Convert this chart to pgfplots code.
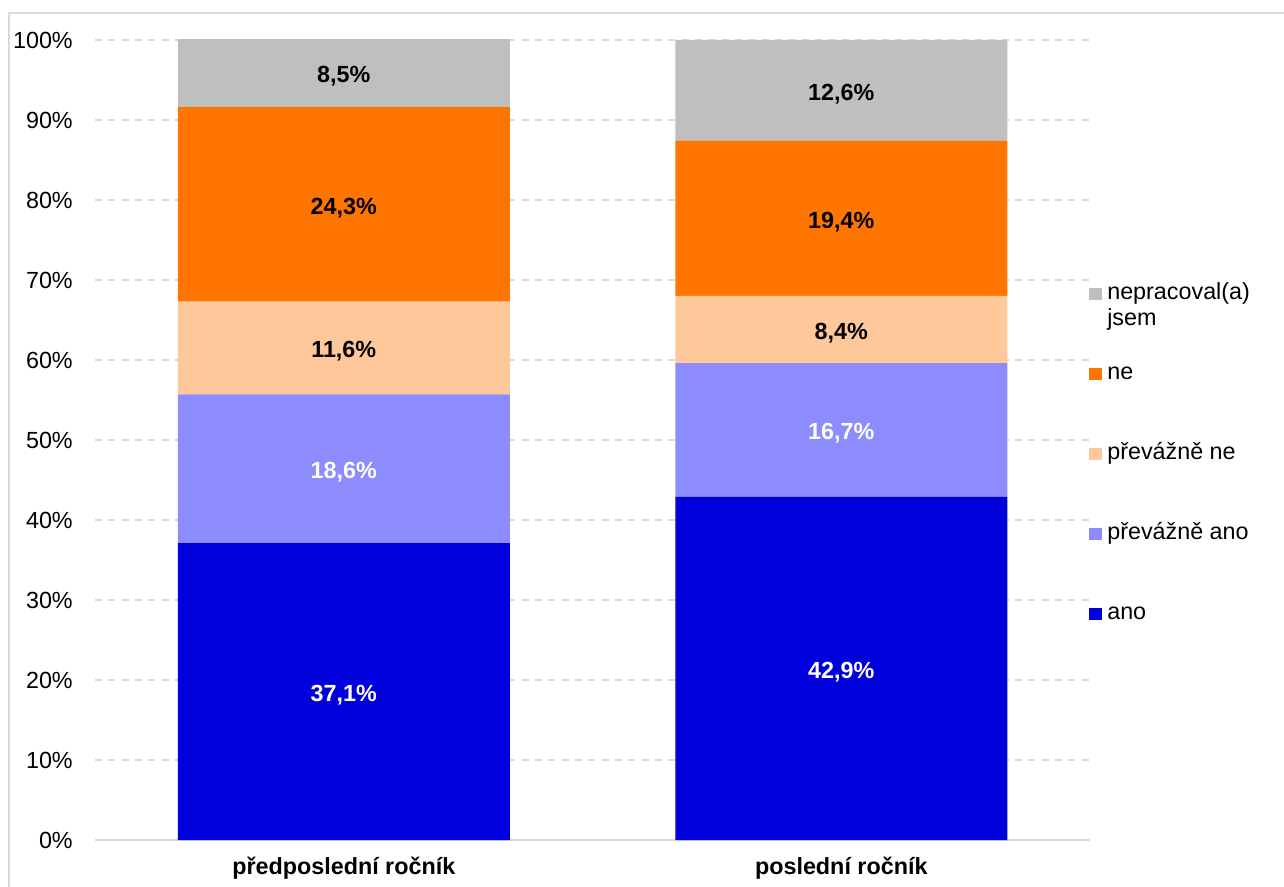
\documentclass[border=0pt]{standalone}
\usepackage{pgfplots}
\pgfplotsset{compat=1.18}
\usepackage{pgfplotstable}
\usepackage{fontspec}
\setmainfont{Liberation Sans}
\definecolor{cAno}{RGB}{0,0,220}
\definecolor{cPAno}{RGB}{140,140,255}
\definecolor{cPNe}{RGB}{255,200,155}
\definecolor{cNe}{RGB}{255,117,0}
\definecolor{cNep}{RGB}{191,191,191}
\definecolor{cGrid}{RGB}{217,217,217}
\pgfplotstableread{
x ano pano pne ne nep
0 37.1 18.6 11.6 24.3 8.5
1 42.9 16.7 8.4 19.4 12.6
}\data
\pgfplotsset{
  mybar/.style={fill=#1, draw=none,
    legend image code/.code={\fill[##1] (0pt,0pt) rectangle (9.5pt,8.5pt);}},
}
\begin{document}
\fontsize{17.5}{19}\selectfont
\begin{tikzpicture}
\draw[cGrid, line width=1.5pt] (6.75pt,-10pt) |- (990pt,654.5pt);
\begin{axis}[
  at={(71.25pt,34.5pt)}, anchor=south west,
  scale only axis, width=746.25pt, height=600pt,
  ybar stacked, bar width=249pt,
  xmin=-0.5, xmax=1.5, ymin=0, ymax=100,
  clip=false,
  xtick={0,1}, xticklabels={předposlední ročník, poslední ročník},
  ytick={0,10,...,100},
  yticklabel={\pgfmathprintnumber{\tick}\%},
  /pgf/number format/assume math mode=true,
  axis x line=bottom, axis y line=left, axis line style={-},
  y axis line style={draw=none},
  x axis line style={draw=cGrid, line width=1pt},
  major tick length=0pt, tick style={draw=none},
  yticklabel style={inner sep=0pt, xshift=-16.5pt},
  xticklabel style={font=\bfseries, inner sep=0pt, yshift=-12.5pt},
  ymajorgrids, grid style={cGrid, line width=1.3pt, dash pattern=on 5.25pt off 4.75pt},
  point meta=explicit,
  nodes near coords={\pgfmathprintnumber[fixed,fixed zerofill,precision=1,use comma]{\pgfplotspointmeta}\%},
  every node near coord/.style={anchor=center, font=\bfseries, yshift=-2.5pt},
  legend cell align=left,
  reverse legend,
  legend style={at={(0.995,0.699)}, anchor=north west, draw=none, fill=none,
    row sep=44.5pt, column sep=4pt,
    nodes={inner sep=0pt, text height=12pt, text depth=3.5pt},
    cells={anchor=base west}},
]
\addplot[mybar=cAno, every node near coord/.append style={text=white}] table[x=x,y=ano,meta=ano]{\data};
\addlegendentry{ano}
\addplot[mybar=cPAno, every node near coord/.append style={text=white}] table[x=x,y=pano,meta=pano]{\data};
\addlegendentry{převážně ano}
\addplot[mybar=cPNe] table[x=x,y=pne,meta=pne]{\data};
\addlegendentry{převážně ne}
\addplot[mybar=cNe] table[x=x,y=ne,meta=ne]{\data};
\addlegendentry{ne}
\addplot[mybar=cNep] table[x=x,y=nep,meta=nep]{\data};
\addlegendentry{\raisebox{0pt}[\height][0pt]{\begin{tabular}[t]{@{}l@{}}nepracoval(a)\\jsem\end{tabular}}}
\end{axis}
\pgfresetboundingbox
\path[use as bounding box] (0,0) rectangle (963pt,664.5pt);
\end{tikzpicture}
\end{document}
